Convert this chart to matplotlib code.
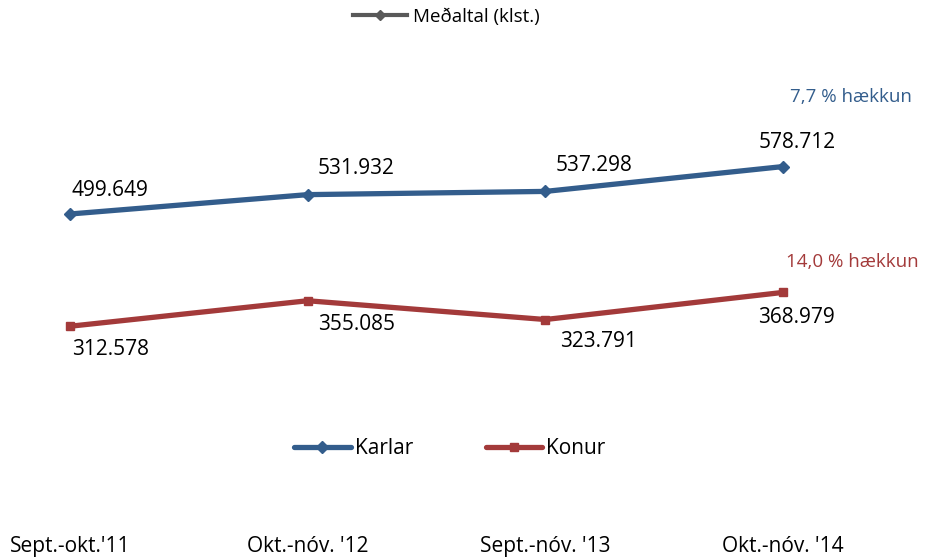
import matplotlib
matplotlib.use("Agg")
import matplotlib.pyplot as plt
from matplotlib.lines import Line2D

plt.rcParams['font.family'] = ['Open Sans', 'DejaVu Sans']

# data
periods = ["Sept.-okt.'11", "Okt.-nóv. '12", "Sept.-nóv. '13", "Okt.-nóv. '14"]
karlar = [499.649, 531.932, 537.298, 578.712]
konur = [312.578, 355.085, 323.791, 368.979]
karlar_labels = ["499.649", "531.932", "537.298", "578.712"]
konur_labels = ["312.578", "355.085", "323.791", "368.979"]
karlar_note = "7,7 % hækkun"
konur_note = "14,0 % hækkun"

blue = '#335D8C'
red = '#A33A3A'
grey = '#595959'

fig = plt.figure(figsize=(9.37, 5.59), dpi=100)
ax = fig.add_axes([0, 29/559, 1, 530/559])

x = list(range(len(periods)))
ax.plot(x, karlar, color=blue, lw=3.8, marker='D', ms=6, label='Karlar', solid_capstyle='round')
ax.plot(x, konur, color=red, lw=3.8, marker='s', ms=6, label='Konur', solid_capstyle='round')

# data labels (offsets in points)
k_off = [(29, 17), (35, 19), (35, 19), (10, 17)]
w_off = [(29, -17), (35, -17), (38, -16), (10, -18)]
for i in x:
    ax.annotate(karlar_labels[i], (i, karlar[i]), xytext=k_off[i], textcoords='offset points',
                ha='center', va='center', fontsize=15, color='black')
    ax.annotate(konur_labels[i], (i, konur[i]), xytext=w_off[i], textcoords='offset points',
                ha='center', va='center', fontsize=15, color='black')

ax.annotate(karlar_note, (3, karlar[3]), xytext=(49, 50), textcoords='offset points',
            ha='center', va='center', fontsize=13.5, color=blue)
ax.annotate(konur_note, (3, konur[3]), xytext=(50, 22), textcoords='offset points',
            ha='center', va='center', fontsize=13.5, color=red)

ax.set_xlim(-70/237.67, 3 + 154/237.67)
ax.set_ylim(-27.0, 856.3)
ax.set_xticks(x)
ax.set_xticklabels(periods, fontsize=15)
ax.tick_params(axis='x', length=0, pad=4)
ax.set_yticks([])
for s in ax.spines.values():
    s.set_visible(False)

leg = ax.legend(loc='center', bbox_to_anchor=(450/937, 1 - 449/530), ncol=2, frameon=False,
                fontsize=15, handlelength=2.7, columnspacing=3.5, handletextpad=0.2)
ax.add_artist(leg)
avg = Line2D([], [], color=grey, lw=3, marker='D', ms=5)
ax.legend([avg], ['Meðaltal (klst.)'], loc='center', bbox_to_anchor=(446/937, 1 - 17/530),
          frameon=False, fontsize=13.5, handlelength=2.9, handletextpad=0.3)

fig.savefig('out.png', dpi=100)
